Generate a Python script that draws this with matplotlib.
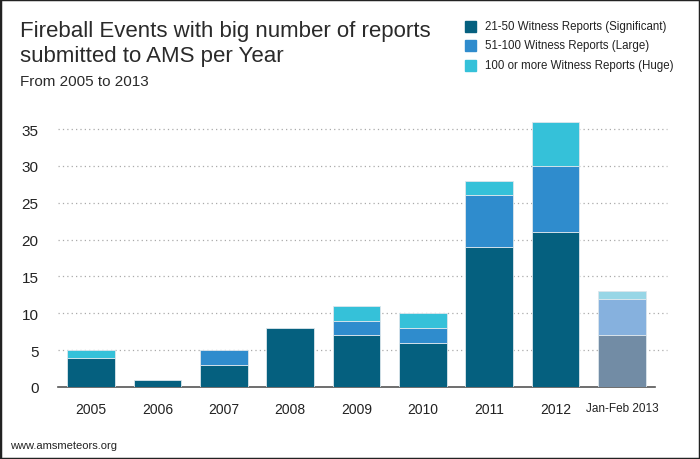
import matplotlib
matplotlib.use("Agg")
import matplotlib.pyplot as plt
from matplotlib.patches import Rectangle
import matplotlib.transforms as mtransforms

plt.rcParams['font.family'] = ['Liberation Sans', 'DejaVu Sans']

years = ['2005', '2006', '2007', '2008', '2009', '2010', '2011', '2012', 'Jan-Feb 2013']
significant = [4, 1, 3, 8, 7, 6, 19, 21, 7]
large = [0, 0, 2, 0, 2, 2, 7, 9, 5]
huge = [1, 0, 0, 0, 2, 2, 2, 6, 1]
series_names = ['21-50 Witness Reports (Significant)',
                '51-100 Witness Reports (Large)',
                '100 or more Witness Reports (Huge)']
yticks = [0, 5, 10, 15, 20, 25, 30, 35]

colors = ['#05607f', '#2f8ccd', '#35c1d9']
faded = ['#728ca5', '#86b1de', '#97d6e6']  # partial year

fig = plt.figure(figsize=(7, 4.6), dpi=100)
ax = fig.add_axes([58 / 700, 1 - 388 / 460, (655 - 58) / 700, 37 * 7.37 / 460])

x = list(range(len(years)))
bottom2 = [a + b for a, b in zip(significant, large)]
for i in x:
    cols = faded if i == len(years) - 1 else colors
    ax.bar(i, significant[i], width=0.72, color=cols[0], edgecolor='#dde6ec', linewidth=0.6, zorder=3)
    if large[i]:
        ax.bar(i, large[i], bottom=significant[i], width=0.72, color=cols[1],
               edgecolor='#dde6ec', linewidth=0.6, zorder=3)
    if huge[i]:
        ax.bar(i, huge[i], bottom=bottom2[i], width=0.72, color=cols[2],
               edgecolor='#dde6ec', linewidth=0.6, zorder=3)

ax.set_xlim(-0.5, 8.5)
ax.set_ylim(0, 37)
ax.set_yticks(yticks)
ax.set_yticklabels([str(v) for v in yticks], fontsize=11, color='#222222')
ax.set_xticks(x)
ax.set_xticklabels(years, fontsize=10, color='#222222')
ax.get_xticklabels()[-1].set_fontsize(8.5)
ax.tick_params(axis='both', length=0)
ax.tick_params(axis='x', pad=11)
ax.tick_params(axis='y', pad=14)

# dotted grid that runs a bit past the axis
trans = mtransforms.blended_transform_factory(ax.transAxes, ax.transData)
ax.hlines(yticks[1:], 0, 1.02, transform=trans, colors='#aaaaaa', linestyles=(0, (1, 2.5)),
          linewidth=0.9, clip_on=False, zorder=1)

for s in ['left', 'right', 'top']:
    ax.spines[s].set_visible(False)
ax.spines['bottom'].set_color('#555555')
ax.spines['bottom'].set_linewidth(1.2)

fig.text(20 / 700, 1 - 37 / 460, 'Fireball Events with big number of reports',
         fontsize=16, color='#2a2a2a', va='baseline')
fig.text(20 / 700, 1 - 62 / 460, 'submitted to AMS per Year',
         fontsize=16, color='#2a2a2a', va='baseline')
fig.text(20 / 700, 1 - 86 / 460, 'From 2005 to 2013',
         fontsize=11, color='#2a2a2a', va='baseline')

for k, name in enumerate(series_names):
    yc = 1 - (27 + k * 19.5) / 460
    fig.patches.append(Rectangle((465 / 700, yc - 5.5 / 460), 11 / 700, 11 / 460,
                                 transform=fig.transFigure, color=colors[k]))
    fig.text(485 / 700, yc, name, fontsize=8.3, color='#222222', va='center')

fig.text(10 / 700, 1 - 449 / 460, 'www.amsmeteors.org', fontsize=8, color='#222222', va='baseline')

fig.patches.append(Rectangle((0, 0), 1, 1, transform=fig.transFigure, fill=False,
                             edgecolor='#222222', linewidth=2.5))

fig.savefig('out.png', dpi=100)
